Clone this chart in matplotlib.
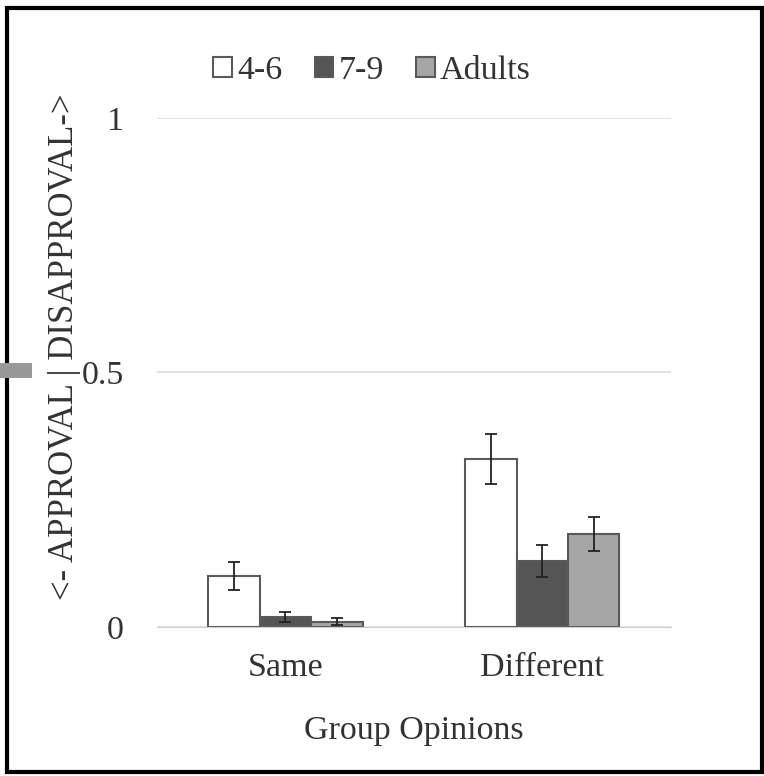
import numpy as np
import matplotlib.pyplot as plt
from matplotlib.patches import Rectangle

plt.rcParams['font.family'] = ['Liberation Serif', 'DejaVu Serif']

categories = ['Same', 'Different']
groups = ['4-6', '7-9', 'Adults']
means = {'4-6': [0.10, 0.33], '7-9': [0.02, 0.13], 'Adults': [0.01, 0.183]}
errs = {'4-6': [0.028, 0.05], '7-9': [0.01, 0.032], 'Adults': [0.007, 0.034]}
colors = {'4-6': 'white', '7-9': '#555555', 'Adults': '#a6a6a6'}

fig = plt.figure(figsize=(7.64, 7.76), dpi=100)
ax = fig.add_axes([0.2055, 0.192, 0.6725, 0.656])

x = np.arange(len(categories))
w = 0.2
for i, g in enumerate(groups):
    ax.bar(x + (i - 1) * w, means[g], w, color=colors[g], edgecolor='#5a5a5a',
           linewidth=1.5, label=g, zorder=2)
    ax.errorbar(x + (i - 1) * w, means[g], yerr=errs[g], fmt='none', ecolor='#222222',
                elinewidth=1.3, capsize=4, capthick=1.3, zorder=3)

ax.set_xlim(-0.5, 1.5)
ax.set_ylim(0, 1)
ax.set_yticks([0, 0.5, 1])
ax.set_yticklabels(['0', '0.5', '1'])
ax.set_xticks(x)
ax.set_xticklabels(categories)
ax.tick_params(axis='both', length=0, labelsize=24.5, colors='#333333')
ax.tick_params(axis='x', pad=18)
ax.tick_params(axis='y', pad=24)
ax.grid(axis='y', color='#dcdcdc', linewidth=1.2, zorder=0)
for s in ['top', 'right', 'left']:
    ax.spines[s].set_visible(False)
ax.spines['bottom'].set_color('#d0d0d0')
ax.set_xlabel('Group Opinions', fontsize=24.5, color='#333333', labelpad=24)
ax.set_ylabel('<- APPROVAL | DISAPPROVAL->', fontsize=25, color='#333333',
              labelpad=0, y=0.55)

fig.legend(loc='center', bbox_to_anchor=(0.487, 0.909), ncol=3, frameon=False,
           fontsize=24.5, handlelength=0.55, handleheight=0.55, handletextpad=0.15,
           columnspacing=0.95, labelcolor='#333333')

# outer frame and stray mark at the left edge
fig.patches.append(Rectangle((0.009, 0.005), 0.988, 0.985, transform=fig.transFigure,
                             fill=False, edgecolor='black', linewidth=3))
fig.patches.append(Rectangle((0.0, 1 - 378 / 776), 32 / 764, 15 / 776, transform=fig.transFigure,
                             facecolor='#999999', edgecolor='none'))

fig.savefig('out.png', dpi=100)
